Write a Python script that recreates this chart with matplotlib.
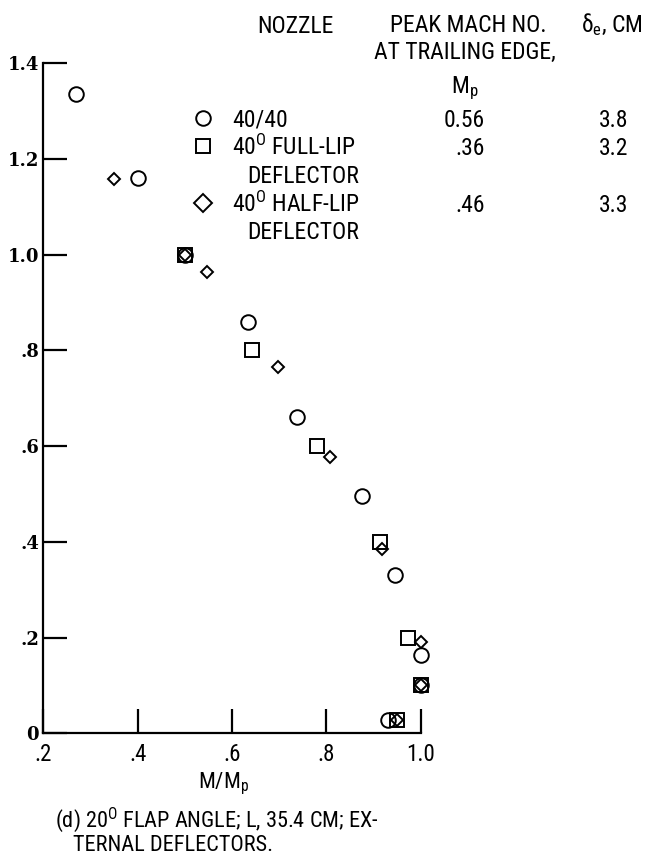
import matplotlib
matplotlib.use("Agg")
import matplotlib.pyplot as plt
import matplotlib.font_manager as fm
from matplotlib.lines import Line2D

# ---------------- data ----------------
circle_x = [0.27, 0.40, 0.50, 0.633, 0.737, 0.875, 0.946, 1.0, 1.0, 0.93]
circle_y = [1.335, 1.16, 1.0, 0.86, 0.66, 0.495, 0.33, 0.163, 0.10, 0.028]

square_x = [0.50, 0.643, 0.78, 0.913, 0.973, 1.0, 0.95]
square_y = [1.0, 0.80, 0.60, 0.40, 0.20, 0.10, 0.028]

diamond_x = [0.35, 0.50, 0.548, 0.698, 0.807, 0.918, 1.0, 1.0, 0.95]
diamond_y = [1.157, 1.0, 0.964, 0.765, 0.577, 0.384, 0.191, 0.10, 0.028]

nozzle_names = ["40/40", "40$^{\\mathrm{O}}$ FULL-LIP", "40$^{\\mathrm{O}}$ HALF-LIP"]
nozzle_second = ["", "DEFLECTOR", "DEFLECTOR"]
peak_mach = ["0.56", ".36", ".46"]
delta_e = ["3.8", "3.2", "3.3"]

x_ticks = [0.2, 0.4, 0.6, 0.8, 1.0]
x_ticklabels = [".2", ".4", ".6", ".8", "1.0"]
y_ticks = [0, 0.2, 0.4, 0.6, 0.8, 1.0, 1.2, 1.4]
y_ticklabels = ["0", ".2", ".4", ".6", ".8", "1.0", "1.2", "1.4"]

# ---------------- fonts ----------------
names = {f.name for f in fm.fontManager.ttflist}
narrow = None
for cand in ["Roboto Condensed", "Liberation Sans Narrow", "Archivo Narrow",
             "Fira Sans Condensed", "Arial Narrow"]:
    if cand in names:
        narrow = cand
        break
if narrow is None:
    narrow = "DejaVu Sans"

plt.rcParams['font.family'] = [narrow, 'DejaVu Sans']
plt.rcParams['mathtext.fontset'] = 'custom'
plt.rcParams['mathtext.rm'] = narrow
plt.rcParams['mathtext.it'] = narrow
plt.rcParams['mathtext.bf'] = narrow

W, H = 649, 857
fig = plt.figure(figsize=(W / 100, H / 100), dpi=100)
fig.patch.set_facecolor('white')

def fx(px):
    return px / W

def fy(py):
    return 1 - py / H

ax = fig.add_axes([fx(43.3), fy(733.3), fx(420.7) - fx(43.3), fy(63) - fy(733.3)])
ax.set_xlim(0.2, 1.0)
ax.set_ylim(0, 1.4)
for s in ['top', 'right']:
    ax.spines[s].set_visible(False)
for s in ['left', 'bottom']:
    ax.spines[s].set_linewidth(1.6)

mk = dict(linestyle='none', markerfacecolor='none', markeredgecolor='black',
          markeredgewidth=1.4, clip_on=False)
ax.plot(circle_x, circle_y, marker='o', markersize=10.5, **mk)
ax.plot(square_x, square_y, marker='s', markersize=10.0, **mk)
ax.plot(diamond_x, diamond_y, marker='D', markersize=6.6, **mk)

ax.set_xticks(x_ticks)
ax.set_xticklabels(x_ticklabels, fontsize=16.5)
ax.set_yticks(y_ticks)
ax.set_yticklabels(y_ticklabels, fontsize=13, family='DejaVu Serif', fontweight='bold')
ax.tick_params(axis='both', direction='in', length=17, width=1.6, color='black')
ax.tick_params(axis='x', pad=7)
ax.tick_params(axis='y', pad=3)

ax.set_xlabel("M/M$_{\\mathrm{p}}$", fontsize=16)
ax.xaxis.set_label_coords(0.477, -0.056)

# ---------------- legend table ----------------
fs = 17
fig.text(fx(295), fy(33), "NOZZLE", ha='center', va='baseline', fontsize=fs)
fig.text(fx(468), fy(32), "PEAK MACH NO.", ha='center', va='baseline', fontsize=fs)
fig.text(fx(465), fy(59), "AT TRAILING EDGE,", ha='center', va='baseline', fontsize=fs)
fig.text(fx(465), fy(93), "M$_{\\mathrm{p}}$", ha='center', va='baseline', fontsize=fs)
fig.text(fx(612), fy(32), "$\\delta_{\\mathrm{e}}$, CM", ha='center', va='baseline', fontsize=fs)

row_base = [127, 155, 212]
second_base = [None, 183, 239]
markers = ['o', 's', 'D']
msizes = [10.5, 10.0, 9.5]
for i in range(3):
    b = row_base[i]
    fig.add_artist(Line2D([fx(203)], [fy(b - 9.5)], marker=markers[i], markersize=msizes[i],
                          transform=fig.transFigure, **mk))
    fig.text(fx(232), fy(b), nozzle_names[i], ha='left', va='baseline', fontsize=fs)
    if nozzle_second[i]:
        fig.text(fx(247), fy(second_base[i]), nozzle_second[i], ha='left', va='baseline', fontsize=fs)
    fig.text(fx(485), fy(b), peak_mach[i], ha='right', va='baseline', fontsize=fs)
    fig.text(fx(628), fy(b), delta_e[i], ha='right', va='baseline', fontsize=fs)

# ---------------- caption ----------------
fig.text(fx(55), fy(827), "(d) 20$^{\\mathrm{O}}$ FLAP ANGLE; L, 35.4 CM; EX-", ha='left', va='baseline', fontsize=16)
fig.text(fx(73), fy(851), "TERNAL DEFLECTORS.", ha='left', va='baseline', fontsize=16)

fig.savefig("out.png", dpi=100)
